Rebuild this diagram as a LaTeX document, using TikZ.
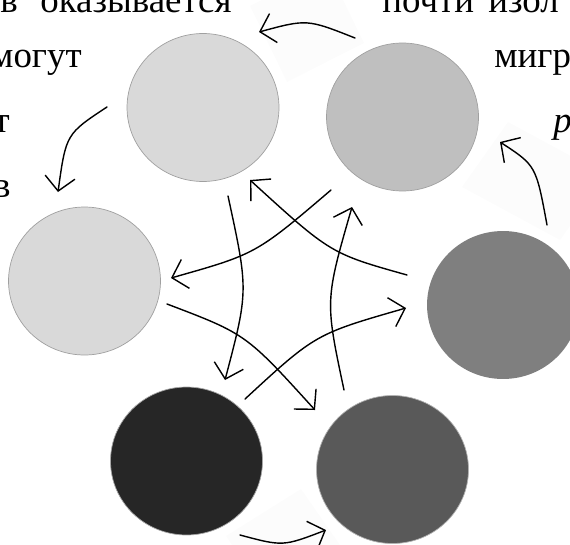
\documentclass[tikz,border=0pt]{standalone}
\usepackage{fontspec}
\setmainfont{Liberation Serif}
\usetikzlibrary{arrows.meta,shapes.geometric}

\definecolor{lite}{HTML}{D9D9D9}
\definecolor{silver}{HTML}{BFBFBF}
\definecolor{mid}{HTML}{7F7F7F}
\definecolor{dim}{HTML}{595959}
\definecolor{coal}{HTML}{262626}
\definecolor{rim}{HTML}{A0A0A0}

\tikzset{
  disc/.style={ellipse,minimum width=3.04cm,minimum height=2.96cm,inner sep=0pt},
  arr/.style={line width=0.8pt,line cap=round,line join=round,
    -{Straight Barb[length=0.28cm,width=0.6cm]}},
  patch/.style={fill=black!1},
  word/.style={anchor=base west,inner sep=0pt,font=\fontsize{21}{25}\selectfont}
}

\begin{document}
\begin{tikzpicture}[x=0.02cm,y=-0.02cm]
  \useasboundingbox (0,0) rectangle (570,544);
  \clip (0,0) rectangle (570,544);

  \fill[patch] (287,82) -- (364,43) -- (327,-33) -- (250,6) -- cycle;
  \fill[patch] (508,122) -- (462,187) -- (560,240) -- (606,175) -- cycle;
  \fill[patch] (301,489) -- (226,536) -- (265,592) -- (340,545) -- cycle;

  \node[word] (l1a) at (0,13) {в};
  \node[word] (l1b) at (40,13) {оказывается};
  \node[word] (l1c) at (382,13) {почти};
  \node[word] (l1d) at (488,13) {изол};
  \node[word,anchor=base east] (l2a) at (82,68) {могут};
  \node[word] (l2b) at (494,68) {мигр};
  \node[word,anchor=base east] (l3a) at (10,132) {т};
  \node[word] (l3b) at (553,132) {\textit{p}};
  \node[word,anchor=base east] (l4a) at (11,197) {в};

  \node[disc,fill=lite,draw=rim,line width=0.4pt] (nw) at (203,107.5) {};
  \node[disc,fill=silver,draw=rim,line width=0.4pt] (ne) at (402.5,117) {};
  \node[disc,fill=lite,draw=rim,line width=0.4pt] (w) at (84.5,281) {};
  \node[disc,fill=mid] (e) at (503,305) {};
  \node[disc,fill=coal,draw=gray!70,line width=0.4pt] (sw) at (186.5,461) {};
  \node[disc,fill=dim,draw=gray!60,line width=0.4pt] (se) at (392.5,469.5) {};

  \foreach \n/\x/\y in {a1s/355/38,a1e/259/32,a2s/107/107,a2e/58/192,
      a3s/547/225,a3e/500/142,a4s/240/535,a4e/326/530,
      b1s/407/275,b1e/250/180,b2s/331/190,b2e/171/278,
      b3s/228/196,b3e/225/380,b4s/167/304,b4e/315/410,
      b5s/245/399,b5e/406/308,b6s/344/390,b6e/352/207}{
    \coordinate (\n) at (\x,\y);
  }

  \draw[arr] (a1s) .. controls (307,19) .. (a1e);
  \draw[arr] (a2s) .. controls (66,134) .. (a2e);
  \draw[arr] (a3s) .. controls (536,165.5) .. (a3e);
  \draw[arr] (a4s) .. controls (283,546.5) .. (a4e);

  \draw[arr] (b1s) .. controls (330.5,253.5) .. (b1e);
  \draw[arr] (b2s) .. controls (256,254) .. (b2e);
  \draw[arr] (b3s) .. controls (248.5,290.7) .. (b3e);
  \draw[arr] (b4s) .. controls (246,334) .. (b4e);
  \draw[arr] (b5s) .. controls (315.5,334) .. (b5e);
  \draw[arr] (b6s) .. controls (325,300.5) .. (b6e);
\end{tikzpicture}
\end{document}
